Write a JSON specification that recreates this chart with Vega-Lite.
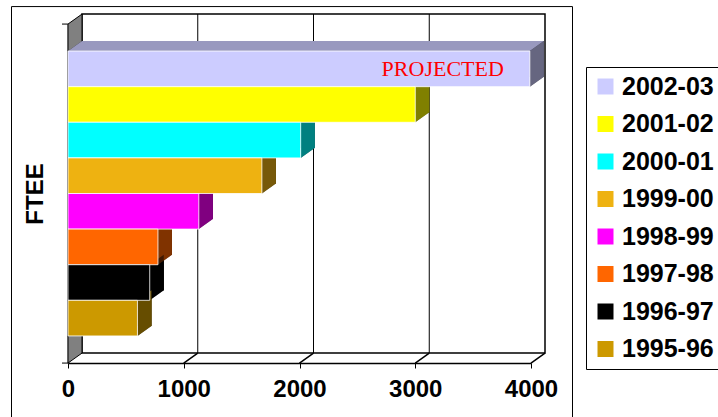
{
  "$schema": "https://vega.github.io/schema/vega-lite/v6.json",
  "width": 463,
  "height": 339,
  "autosize": "none",
  "padding": {"left": 82, "top": 14, "right": 173, "bottom": 64},
  "background": "white",
  "datasets": {
    "ftee": [
      {"year": "2002-03", "value": 3990, "note": "PROJECTED"},
      {"year": "2001-02", "value": 3000, "note": ""},
      {"year": "2000-01", "value": 2010, "note": ""},
      {"year": "1999-00", "value": 1675, "note": ""},
      {"year": "1998-99", "value": 1130, "note": ""},
      {"year": "1997-98", "value": 777, "note": ""},
      {"year": "1996-97", "value": 706, "note": ""},
      {"year": "1995-96", "value": 600, "note": ""}
    ],
    "ticks": [{"tick": 1000}, {"tick": 2000}, {"tick": 3000}, {"tick": 4000}]
  },
  "data": {"name": "ftee"},
  "layer": [
    {
      "data": {"name": "ticks"},
      "transform": [{"filter": "datum.tick < 4000"}],
      "mark": {"type": "rule", "color": "black", "strokeWidth": 1},
      "encoding": {
        "x": {"field": "tick", "type": "quantitative", "scale": {"domain": [0, 4000], "nice": false, "zero": true},
              "axis": {"values": [0, 1000, 2000, 3000, 4000], "format": "d", "title": null, "offset": 10, "position": -14, "labelFlush": false, "tickSize": 5, "labelFontSize": 24, "labelPadding": 9, "domainWidth": 1.5}}
      }
    },
    {
      "transform": [{"filter": "datum.year == '2002-03'"}],
      "mark": {"type": "point", "shape": "M-14,-17 L0,-27 L0,312 L-14,322 Z M-20,-17 L-14,-17 M-20,322 L-14,322", "size": 4, "filled": true, "fill": "#808080", "stroke": "black", "strokeWidth": 1, "opacity": 1},
      "encoding": {
        "x": {"datum": 0, "type": "quantitative"},
        "y": {"datum": "2002-03", "type": "nominal", "bandPosition": 0,
              "scale": {"type": "band", "domain": ["2002-03", "2001-02", "2000-01", "1999-00", "1998-99", "1997-98", "1996-97", "1995-96"], "paddingInner": 0, "paddingOuter": 0.76}}
      }
    },
    {
      "data": {"name": "ticks"},
      "mark": {"type": "point", "shape": "M0,312 L-14,322", "size": 4, "filled": false, "color": "black", "strokeWidth": 1.5, "opacity": 1},
      "encoding": {
        "x": {"field": "tick", "type": "quantitative"},
        "y": {"datum": "2002-03", "type": "nominal", "bandPosition": 0,
              "scale": {"type": "band", "domain": ["2002-03", "2001-02", "2000-01", "1999-00", "1998-99", "1997-98", "1996-97", "1995-96"], "paddingInner": 0, "paddingOuter": 0.76}}
      }
    },
    {
      "mark": {"type": "bar", "color": "black"},
      "encoding": {
        "x": {"field": "value", "type": "quantitative"},
        "y": {"field": "year", "type": "nominal",
              "scale": {"type": "band", "domain": ["2002-03", "2001-02", "2000-01", "1999-00", "1998-99", "1997-98", "1996-97", "1995-96"], "paddingInner": 0, "paddingOuter": 0.76},
              "axis": {"title": "FTEE", "labels": false, "ticks": false, "offset": 14, "position": 10, "domainWidth": 1.5, "titleFontSize": 24, "titlePadding": 21}}
      }
    },
    {
      "mark": {"type": "bar", "opacity": 0.75},
      "encoding": {
        "x": {"field": "value", "type": "quantitative"},
        "y": {"field": "year", "type": "nominal",
              "scale": {"type": "band", "domain": ["2002-03", "2001-02", "2000-01", "1999-00", "1998-99", "1997-98", "1996-97", "1995-96"], "paddingInner": 0, "paddingOuter": 0.76}},
        "color": {"field": "year", "type": "nominal",
                  "scale": {"domain": ["2002-03", "2001-02", "2000-01", "1999-00", "1998-99", "1997-98", "1996-97", "1995-96"], "range": ["#CCCCFF", "#FFFF00", "#00FFFF", "#EEB211", "#FF00FF", "#FF6600", "#000000", "#CC9900"]},
                  "legend": {"title": null, "orient": "none", "legendX": 504, "legendY": 53, "fillColor": "white", "strokeColor": "black", "padding": 7, "symbolType": "square", "symbolSize": 256, "symbolStrokeWidth": 0, "symbolOpacity": 1, "labelFont": "Liberation Sans", "labelFontSize": 25, "labelFontWeight": "bold", "labelColor": "black", "rowPadding": 11.5, "labelOffset": 4}}
      }
    },
    {
      "mark": {"type": "point", "shape": "M-14,10 L0,0 L0,10 Z", "size": 4, "filled": true, "color": "black", "opacity": 1},
      "encoding": {
        "x": {"datum": 0, "type": "quantitative"},
        "y": {"field": "year", "type": "nominal", "bandPosition": 0,
              "scale": {"type": "band", "domain": ["2002-03", "2001-02", "2000-01", "1999-00", "1998-99", "1997-98", "1996-97", "1995-96"], "paddingInner": 0, "paddingOuter": 0.76}}
      }
    },
    {
      "mark": {"type": "point", "shape": "M-14,10 L0,0 L0,10 Z", "size": 4, "filled": true, "opacity": 0.75},
      "encoding": {
        "x": {"datum": 0, "type": "quantitative"},
        "y": {"field": "year", "type": "nominal", "bandPosition": 0,
              "scale": {"type": "band", "domain": ["2002-03", "2001-02", "2000-01", "1999-00", "1998-99", "1997-98", "1996-97", "1995-96"], "paddingInner": 0, "paddingOuter": 0.76}},
        "color": {"field": "year", "type": "nominal",
                  "scale": {"domain": ["2002-03", "2001-02", "2000-01", "1999-00", "1998-99", "1997-98", "1996-97", "1995-96"], "range": ["#CCCCFF", "#FFFF00", "#00FFFF", "#EEB211", "#FF00FF", "#FF6600", "#000000", "#CC9900"]},
                  "legend": {"title": null, "orient": "none", "legendX": 504, "legendY": 53, "fillColor": "white", "strokeColor": "black", "padding": 7, "symbolType": "square", "symbolSize": 256, "symbolStrokeWidth": 0, "symbolOpacity": 1, "labelFont": "Liberation Sans", "labelFontSize": 25, "labelFontWeight": "bold", "labelColor": "black", "rowPadding": 11.5, "labelOffset": 4}}
      }
    },
    {
      "mark": {"type": "point", "shape": "M-14,10 L0,0 L0,35.6 L-14,45.6 Z", "size": 4, "filled": true, "color": "black", "opacity": 1},
      "encoding": {
        "x": {"field": "value", "type": "quantitative"},
        "y": {"field": "year", "type": "nominal", "bandPosition": 0,
              "scale": {"type": "band", "domain": ["2002-03", "2001-02", "2000-01", "1999-00", "1998-99", "1997-98", "1996-97", "1995-96"], "paddingInner": 0, "paddingOuter": 0.76}}
      }
    },
    {
      "mark": {"type": "point", "shape": "M-14,10 L0,0 L0,35.6 L-14,45.6 Z", "size": 4, "filled": true, "opacity": 0.5},
      "encoding": {
        "x": {"field": "value", "type": "quantitative"},
        "y": {"field": "year", "type": "nominal", "bandPosition": 0,
              "scale": {"type": "band", "domain": ["2002-03", "2001-02", "2000-01", "1999-00", "1998-99", "1997-98", "1996-97", "1995-96"], "paddingInner": 0, "paddingOuter": 0.76}},
        "color": {"field": "year", "type": "nominal",
                  "scale": {"domain": ["2002-03", "2001-02", "2000-01", "1999-00", "1998-99", "1997-98", "1996-97", "1995-96"], "range": ["#CCCCFF", "#FFFF00", "#00FFFF", "#EEB211", "#FF00FF", "#FF6600", "#000000", "#CC9900"]},
                  "legend": {"title": null, "orient": "none", "legendX": 504, "legendY": 53, "fillColor": "white", "strokeColor": "black", "padding": 7, "symbolType": "square", "symbolSize": 256, "symbolStrokeWidth": 0, "symbolOpacity": 1, "labelFont": "Liberation Sans", "labelFontSize": 25, "labelFontWeight": "bold", "labelColor": "black", "rowPadding": 11.5, "labelOffset": 4}}
      }
    },
    {
      "mark": {"type": "bar", "opacity": 1, "xOffset": -14, "x2Offset": -14, "yOffset": 10, "y2Offset": 10, "stroke": "#ffffff", "strokeWidth": 0.8},
      "encoding": {
        "x": {"field": "value", "type": "quantitative"},
        "y": {"field": "year", "type": "nominal",
              "scale": {"type": "band", "domain": ["2002-03", "2001-02", "2000-01", "1999-00", "1998-99", "1997-98", "1996-97", "1995-96"], "paddingInner": 0, "paddingOuter": 0.76}},
        "color": {"field": "year", "type": "nominal",
                  "scale": {"domain": ["2002-03", "2001-02", "2000-01", "1999-00", "1998-99", "1997-98", "1996-97", "1995-96"], "range": ["#CCCCFF", "#FFFF00", "#00FFFF", "#EEB211", "#FF00FF", "#FF6600", "#000000", "#CC9900"]},
                  "legend": {"title": null, "orient": "none", "legendX": 504, "legendY": 53, "fillColor": "white", "strokeColor": "black", "padding": 7, "symbolType": "square", "symbolSize": 256, "symbolStrokeWidth": 0, "symbolOpacity": 1, "labelFont": "Liberation Sans", "labelFontSize": 25, "labelFontWeight": "bold", "labelColor": "black", "rowPadding": 11.5, "labelOffset": 4}}
      }
    },
    {
      "transform": [{"filter": "datum.note != ''"}],
      "mark": {"type": "text", "align": "right", "baseline": "middle", "dx": -40, "dy": 10, "font": "Liberation Serif", "fontSize": 22, "color": "#FF0000"},
      "encoding": {
        "x": {"field": "value", "type": "quantitative"},
        "y": {"field": "year", "type": "nominal",
              "scale": {"type": "band", "domain": ["2002-03", "2001-02", "2000-01", "1999-00", "1998-99", "1997-98", "1996-97", "1995-96"], "paddingInner": 0, "paddingOuter": 0.76}},
        "text": {"field": "note"}
      }
    },
    {
      "transform": [{"filter": "datum.year == '2002-03'"}],
      "mark": {"type": "point", "shape": "M-70.5,-34.5 L490.5,-34.5 L490.5,400 L-70.5,400 Z", "size": 4, "filled": false, "color": "black", "strokeWidth": 1, "opacity": 1},
      "encoding": {
        "x": {"datum": 0, "type": "quantitative"},
        "y": {"datum": "2002-03", "type": "nominal", "bandPosition": 0,
              "scale": {"type": "band", "domain": ["2002-03", "2001-02", "2000-01", "1999-00", "1998-99", "1997-98", "1996-97", "1995-96"], "paddingInner": 0, "paddingOuter": 0.76}}
      }
    }
  ],
  "config": {
    "view": {"stroke": "black", "strokeWidth": 1.5, "fill": "white"},
    "axis": {"zindex": 1, "grid": false, "domainColor": "black", "tickColor": "black", "labelColor": "black", "titleColor": "black", "labelFont": "Liberation Sans", "titleFont": "Liberation Sans", "labelFontWeight": "bold", "titleFontWeight": "bold"}
  }
}
